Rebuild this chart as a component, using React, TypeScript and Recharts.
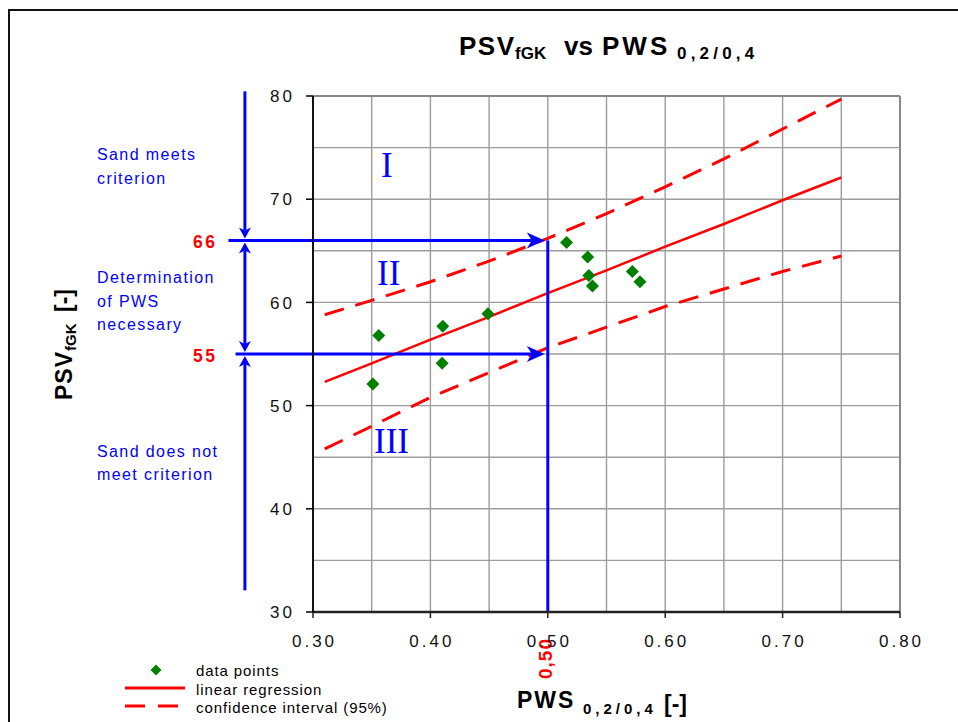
import React from 'react';
import {
  ComposedChart,
  XAxis,
  YAxis,
  CartesianGrid,
  Line,
  Scatter,
  ReferenceLine,
  Customized,
} from 'recharts';

// ---------- data ----------
const pointX = [0.351, 0.356, 0.41, 0.4105, 0.449, 0.516, 0.534, 0.535, 0.538, 0.572, 0.5785];
const pointY = [52.1, 56.8, 54.1, 57.7, 58.9, 65.8, 64.4, 62.6, 61.6, 63.0, 62.0];

const lineX = [0.31, 0.35, 0.4, 0.45, 0.5, 0.55, 0.6, 0.65, 0.7, 0.75];
const regressionY = [52.3, 54.1, 56.4, 58.6, 60.9, 63.1, 65.4, 67.6, 69.9, 72.1];
const upperY = [58.8, 60.2, 62.0, 64.0, 66.2, 68.6, 71.2, 73.9, 76.8, 79.7];
const lowerY = [45.8, 48.0, 50.8, 53.2, 55.6, 57.6, 59.6, 61.3, 63.0, 64.5];

const xTicks = [0.3, 0.35, 0.4, 0.45, 0.5, 0.55, 0.6, 0.65, 0.7, 0.75, 0.8];
const yTicks = [30, 35, 40, 45, 50, 55, 60, 65, 70, 75, 80];

// annotation values (data coordinates)
const upperLimit = 66;
const lowerLimit = 55;
const pwsLimit = 0.5;
const arrowX = 0.242;
const arrowTop = 80.45;
const arrowBottom = 32.1;
const line66Start = 0.228;
const line55Start = 0.234;

const points = pointX.map((x, i) => ({ x, y: pointY[i] }));
const regression = lineX.map((x, i) => ({ x, y: regressionY[i] }));
const upper = lineX.map((x, i) => ({ x, y: upperY[i] }));
const lower = lineX.map((x, i) => ({ x, y: lowerY[i] }));

const SANS = '"Liberation Sans", Arial, sans-serif';
const SERIF = '"Liberation Serif", "Times New Roman", serif';
const BLUE = '#0000ff';
const RED = '#ff0000';
const GREEN = '#008000';

// ---------- helpers ----------
const makeArrow =
  (startHead: boolean, endHead: boolean, len: number, half: number, gap: number) =>
  (p: any) => {
    const { x1, y1, x2, y2 } = p;
    const dx = x2 - x1;
    const dy = y2 - y1;
    const d = Math.hypot(dx, dy) || 1;
    const ux = dx / d;
    const uy = dy / d;
    const nx = -uy;
    const ny = ux;
    const head = (tx: number, ty: number, sx: number, sy: number) => {
      const bx = tx - sx * len;
      const by = ty - sy * len;
      const mx = tx - sx * len * 0.72;
      const my = ty - sy * len * 0.72;
      return (
        <polygon
          points={`${tx},${ty} ${bx + nx * half},${by + ny * half} ${mx},${my} ${bx - nx * half},${by - ny * half}`}
          fill={BLUE}
        />
      );
    };
    let ax = x1;
    let ay = y1;
    let bx = x2;
    let by = y2;
    const sTipX = x1 + ux * gap;
    const sTipY = y1 + uy * gap;
    const eTipX = x2 - ux * gap;
    const eTipY = y2 - uy * gap;
    if (startHead) {
      ax = sTipX + ux * len * 0.72;
      ay = sTipY + uy * len * 0.72;
    }
    if (endHead) {
      bx = eTipX - ux * len * 0.72;
      by = eTipY - uy * len * 0.72;
    }
    return (
      <g>
        <line x1={ax} y1={ay} x2={bx} y2={by} stroke={BLUE} strokeWidth={3} />
        {startHead && head(sTipX, sTipY, -ux, -uy)}
        {endHead && head(eTipX, eTipY, ux, uy)}
      </g>
    );
  };

const plainBlue = (p: any) => (
  <line x1={p.x1} y1={p.y1} x2={p.x2} y2={p.y2} stroke={BLUE} strokeWidth={3} />
);

const Diamond = (props: any) => {
  const { cx, cy } = props;
  if (cx == null || cy == null) return <g />;
  const r = 6.5;
  return (
    <polygon points={`${cx},${cy - r} ${cx + r},${cy} ${cx},${cy + r} ${cx - r},${cy}`} fill={GREEN} />
  );
};

const XTick = (props: any) => {
  const { x, y, payload } = props;
  const v = payload.value;
  const major = Math.round(v * 100) % 10 === 0;
  if (!major) return <g />;
  return (
    <g>
      <line x1={x} x2={x} y1={y - 22} y2={y - 16} stroke="#222" strokeWidth={1.5} />
      <text
        x={x + 1.5}
        y={y + 13}
        textAnchor="middle"
        fontFamily={SANS}
        fontSize={17}
        letterSpacing={3}
        fill="#111"
      >
        {v.toFixed(2)}
      </text>
    </g>
  );
};

const YTick = (props: any) => {
  const { x, y, payload } = props;
  const v = payload.value;
  if (v % 10 !== 0) return <g />;
  return (
    <g>
      <line x1={x + 11} x2={x + 18} y1={y} y2={y} stroke="#000" strokeWidth={1.5} />
      <text
        x={x}
        y={y}
        dy="0.36em"
        textAnchor="end"
        fontFamily={SANS}
        fontSize={17}
        letterSpacing={3}
        fill="#111"
      >
        {v}
      </text>
    </g>
  );
};

const blueText = { fontFamily: SANS, fontSize: 16, letterSpacing: 1.4, fill: BLUE } as const;
const legendText = { fontFamily: SANS, fontSize: 15, letterSpacing: 0.9, fill: '#000' } as const;
const roman = { fontFamily: SERIF, fontSize: 35, fill: BLUE } as const;

const Overlay = () => (
  <g>
    {/* title */}
    <text fontFamily={SANS} fontWeight="bold" fill="#000">
      <tspan x={451} y={47} fontSize={26} letterSpacing={1.5}>PSV</tspan>
      <tspan x={507} y={51} fontSize={17}>fGK</tspan>
      <tspan x={556} y={47} fontSize={26}>vs</tspan>
      <tspan x={594} y={47} fontSize={26} letterSpacing={3}>PWS</tspan>
      <tspan x={669} y={51} fontSize={17} letterSpacing={4.2}>0,2/0,4</tspan>
    </text>

    {/* x axis title */}
    <text fontFamily={SANS} fontWeight="bold" fill="#000">
      <tspan x={509} y={700} fontSize={23} letterSpacing={2}>PWS</tspan>
      <tspan x={575} y={706} fontSize={15} letterSpacing={4}>0,2/0,4</tspan>
      <tspan x={656} y={704} fontSize={23}>[-]</tspan>
    </text>

    {/* y axis title */}
    <text transform="translate(64,392) rotate(-90)" fontFamily={SANS} fontWeight="bold" fill="#000">
      <tspan x={0} y={0} fontSize={23} letterSpacing={1}>PSV</tspan>
      <tspan x={49} y={4} fontSize={15}>fGK</tspan>
      <tspan x={88} y={0} fontSize={23}>[-]</tspan>
    </text>

    {/* red limit values */}
    <text x={185} y={240} fontFamily={SANS} fontWeight="bold" fontSize={17.5} letterSpacing={2.5} fill={RED}>
      66
    </text>
    <text x={185} y={354} fontFamily={SANS} fontWeight="bold" fontSize={17.5} letterSpacing={2.5} fill={RED}>
      55
    </text>
    <text
      transform="translate(544,671) rotate(-90)"
      fontFamily={SANS}
      fontWeight="bold"
      fontSize={19}
      letterSpacing={1}
      fill={RED}
    >
      0,50
    </text>

    {/* blue explanations */}
    <text {...blueText} x={89} y={152}>Sand meets</text>
    <text {...blueText} x={89} y={176}>criterion</text>
    <text {...blueText} x={89} y={275}>Determination</text>
    <text {...blueText} x={89} y={299}>of PWS</text>
    <text {...blueText} x={89} y={322}>necessary</text>
    <text {...blueText} x={89} y={449}>Sand does not</text>
    <text {...blueText} x={89} y={472}>meet criterion</text>

    {/* roman numerals */}
    <text {...roman} x={373} y={169}>I</text>
    <text {...roman} x={369} y={277}>II</text>
    <text {...roman} x={366} y={445}>III</text>

    {/* legend */}
    <polygon points="148,656.5 153.5,662 148,667.5 142.5,662" fill={GREEN} />
    <text {...legendText} x={188} y={668}>data points</text>
    <line x1={117} x2={177} y1={680} y2={680} stroke={RED} strokeWidth={3} />
    <text {...legendText} x={188} y={687}>linear regression</text>
    <line x1={117} x2={171} y1={698} y2={698} stroke={RED} strokeWidth={3} strokeDasharray="20 13" />
    <text {...legendText} x={188} y={705}>confidence interval (95%)</text>
  </g>
);

export default function App() {
  return (
    <div
      style={{
        position: 'fixed',
        left: 0,
        top: 0,
        width: 958,
        height: 722,
        overflow: 'hidden',
        background: '#fff',
      }}
    >
      <div style={{ position: 'absolute', left: 8, top: 9, width: 950, height: 2, background: '#111' }} />
      <div style={{ position: 'absolute', left: 8, top: 9, width: 2, height: 713, background: '#111' }} />
      <div style={{ position: 'absolute', left: 8, top: 8 }}>
        <ComposedChart
          width={950}
          height={714}
          margin={{ top: 88, right: 58, bottom: 80, left: 245 }}
        >
          <CartesianGrid stroke="#9c9c9c" strokeWidth={1.4} />
          <XAxis
            type="number"
            dataKey="x"
            domain={[0.3, 0.8]}
            ticks={xTicks}
            interval={0}
            allowDataOverflow
            height={30}
            tickSize={6}
            tickMargin={16}
            tickLine={false}
            tick={XTick}
            axisLine={{ stroke: '#222', strokeWidth: 2.5 }}
          />
          <YAxis
            type="number"
            dataKey="y"
            domain={[30, 80]}
            ticks={yTicks}
            interval={0}
            allowDataOverflow
            width={60}
            tickSize={7}
            tickMargin={11}
            tickLine={false}
            tick={YTick}
            axisLine={{ stroke: '#000', strokeWidth: 1.8 }}
          />
          <ReferenceLine y={80} stroke="#888" strokeWidth={2} ifOverflow="visible" />
          <ReferenceLine x={0.8} stroke="#888" strokeWidth={2} ifOverflow="visible" />

          <Line
            data={upper}
            dataKey="y"
            type="linear"
            stroke={RED}
            strokeWidth={3}
            strokeDasharray="20 12"
            dot={false}
            activeDot={false}
            isAnimationActive={false}
          />
          <Line
            data={lower}
            dataKey="y"
            type="linear"
            stroke={RED}
            strokeWidth={3}
            strokeDasharray="20 12"
            dot={false}
            activeDot={false}
            isAnimationActive={false}
          />
          <Line
            data={regression}
            dataKey="y"
            type="linear"
            stroke={RED}
            strokeWidth={2.5}
            dot={false}
            activeDot={false}
            isAnimationActive={false}
          />
          <Scatter data={points} dataKey="y" shape={Diamond} isAnimationActive={false} />

          {/* blue annotation lines */}
          <ReferenceLine
            segment={[{ x: arrowX, y: arrowTop }, { x: arrowX, y: upperLimit }]}
            ifOverflow="visible"
            shape={makeArrow(false, true, 11, 6, 2)}
          />
          <ReferenceLine
            segment={[{ x: arrowX, y: upperLimit }, { x: arrowX, y: lowerLimit }]}
            ifOverflow="visible"
            shape={makeArrow(true, true, 11, 6, 2)}
          />
          <ReferenceLine
            segment={[{ x: arrowX, y: lowerLimit }, { x: arrowX, y: arrowBottom }]}
            ifOverflow="visible"
            shape={makeArrow(true, false, 11, 6, 2)}
          />
          <ReferenceLine
            segment={[{ x: line66Start, y: upperLimit }, { x: pwsLimit, y: upperLimit }]}
            ifOverflow="visible"
            shape={makeArrow(false, true, 18, 8, 3)}
          />
          <ReferenceLine
            segment={[{ x: line55Start, y: lowerLimit }, { x: pwsLimit, y: lowerLimit }]}
            ifOverflow="visible"
            shape={makeArrow(false, true, 18, 8, 3)}
          />
          <ReferenceLine
            segment={[{ x: pwsLimit, y: upperLimit }, { x: pwsLimit, y: 30 }]}
            ifOverflow="visible"
            shape={plainBlue}
          />

          <Customized component={<Overlay />} />
        </ComposedChart>
      </div>
    </div>
  );
}
